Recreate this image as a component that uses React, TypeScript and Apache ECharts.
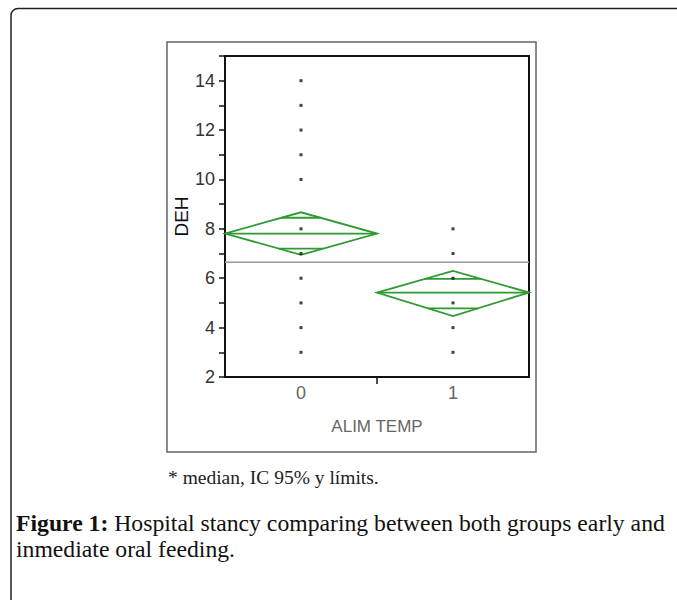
import React, { useEffect, useRef } from "react";
import * as echarts from "echarts";

const groupLabels = ["0", "1"];
const groupX = [0, 1];
const means = [7.81, 5.42];
const ciLow = [6.95, 4.47];
const ciHigh = [8.67, 6.3];
const overlapLow = [7.2, 4.78];
const overlapHigh = [8.45, 5.97];
const grandMean = 6.65;
const pointsGroup0 = [3, 4, 5, 6, 7, 8, 10, 11, 12, 13, 14];
const pointsGroup1 = [3, 4, 5, 6, 7, 8];
const captionNote = "* median, IC 95% y límits.";
const captionLine1 = "{b|Figure 1:} Hospital stancy comparing between both groups early and";
const captionLine2 = "inmediate oral feeding.";

const GREEN = "#2f9a32";

export default function App() {
  const ref = useRef<HTMLDivElement>(null);
  useEffect(() => {
    if (!ref.current) return;
    const chart = echarts.init(ref.current, undefined, { renderer: "svg" });
    const diamondData = groupX.map((x, i) => [x, means[i], ciLow[i], ciHigh[i], overlapLow[i], overlapHigh[i]]);
    const option: any = {
      animation: false,
      backgroundColor: "#fff",
      grid: {
        left: 225,
        right: 148,
        top: 56,
        bottom: 223,
        show: true,
        borderColor: "#111",
        borderWidth: 2,
      },
      xAxis: {
        type: "value",
        min: -0.5,
        max: 1.5,
        name: "ALIM TEMP",
        nameLocation: "middle",
        nameGap: 41,
        nameTextStyle: { color: "#666", fontSize: 17, fontFamily: "Liberation Sans" },
        axisLine: { show: true, onZero: false, lineStyle: { color: "#111", width: 2 } },
        axisTick: { show: true, length: 7, customValues: [0.5], lineStyle: { color: "#111", width: 1.5 } },
        axisLabel: {
          customValues: groupX,
          formatter: (v: number) => groupLabels[Math.round(v)] ?? "",
          color: "#666",
          fontSize: 18,
          margin: 7,
          fontFamily: "Liberation Sans",
        },
        splitLine: { show: false },
      },
      yAxis: {
        type: "value",
        min: 2,
        max: 15,
        interval: 1,
        name: "DEH",
        nameLocation: "middle",
        nameGap: 32,
        nameTextStyle: { color: "#111", fontSize: 19, fontFamily: "Liberation Sans" },
        axisLine: { show: true, onZero: false, lineStyle: { color: "#111", width: 2 } },
        axisTick: { show: true, length: 6, lineStyle: { color: "#111", width: 1.5 } },
        axisLabel: {
          formatter: (v: number) => (v % 2 === 0 ? String(v) : ""),
          color: "#333",
          fontSize: 18,
          margin: 10,
          fontFamily: "Liberation Sans",
        },
        splitLine: { show: false },
      },
      series: [
        {
          type: "line",
          data: [[-0.5, grandMean], [1.5, grandMean]],
          symbol: "none",
          lineStyle: { color: "#999", width: 1.5 },
          silent: true,
        },
        {
          type: "custom",
          data: diamondData,
          renderItem: (params: any, api: any) => {
            const x = api.value(0);
            const m = api.value(1);
            const lo = api.value(2);
            const hi = api.value(3);
            const ol = api.value(4);
            const oh = api.value(5);
            const L = api.coord([x - 0.5, m]);
            const R = api.coord([x + 0.5, m]);
            const T = api.coord([x, hi]);
            const B = api.coord([x, lo]);
            const cx = T[0];
            const halfW = (R[0] - L[0]) / 2;
            const mark = (v: number, refV: number) => {
              const p = api.coord([x, v]);
              const frac = 1 - Math.abs(v - m) / Math.abs(refV - m);
              return { x1: cx - halfW * frac, x2: cx + halfW * frac, y1: p[1], y2: p[1] };
            };
            const style = { stroke: GREEN, lineWidth: 1.8, fill: "none" };
            return {
              type: "group",
              children: [
                { type: "polygon", shape: { points: [L, T, R, B] }, style },
                { type: "line", shape: { x1: L[0], y1: L[1], x2: R[0], y2: R[1] }, style },
                { type: "line", shape: mark(oh, hi), style },
                { type: "line", shape: mark(ol, lo), style },
              ],
            };
          },
          z: 3,
        },
        {
          type: "scatter",
          data: pointsGroup0.map((v) => [groupX[0], v]),
          symbol: "rect",
          symbolSize: 3,
          itemStyle: { color: "#111" },
          z: 4,
        },
        {
          type: "scatter",
          data: pointsGroup1.map((v) => [groupX[1], v]),
          symbol: "rect",
          symbolSize: 3,
          itemStyle: { color: "#111" },
          z: 4,
        },
      ],
      graphic: [
        {
          type: "rect",
          shape: { x: 11, y: 8.5, width: 720, height: 640, r: [7, 0, 0, 0] },
          style: { fill: "none", stroke: "#222", lineWidth: 1.5 },
          silent: true,
        },
        {
          type: "rect",
          shape: { x: 167, y: 42, width: 369, height: 410 },
          style: { fill: "none", stroke: "#666", lineWidth: 1.5 },
          silent: true,
        },
        {
          type: "text",
          x: 168,
          y: 477,
          style: {
            text: captionNote,
            font: "19.5px 'Liberation Serif'",
            fill: "#222",
            verticalAlign: "middle",
          },
        },
        {
          type: "text",
          x: 16,
          y: 523,
          style: {
            text: captionLine1,
            font: "23.7px 'Liberation Serif'",
            fill: "#111",
            verticalAlign: "middle",
            rich: { b: { fontWeight: "bold", fontSize: 23.7, fontFamily: "Liberation Serif", fill: "#111" } },
          },
        },
        {
          type: "text",
          x: 16,
          y: 549,
          style: {
            text: captionLine2,
            font: "23.7px 'Liberation Serif'",
            fill: "#111",
            verticalAlign: "middle",
          },
        },
      ],
    };
    chart.setOption(option);
    return () => chart.dispose();
  }, []);
  return (
    <div
      ref={ref}
      style={{ position: "absolute", left: 0, top: 0, width: 677, height: 600 }}
    />
  );
}
